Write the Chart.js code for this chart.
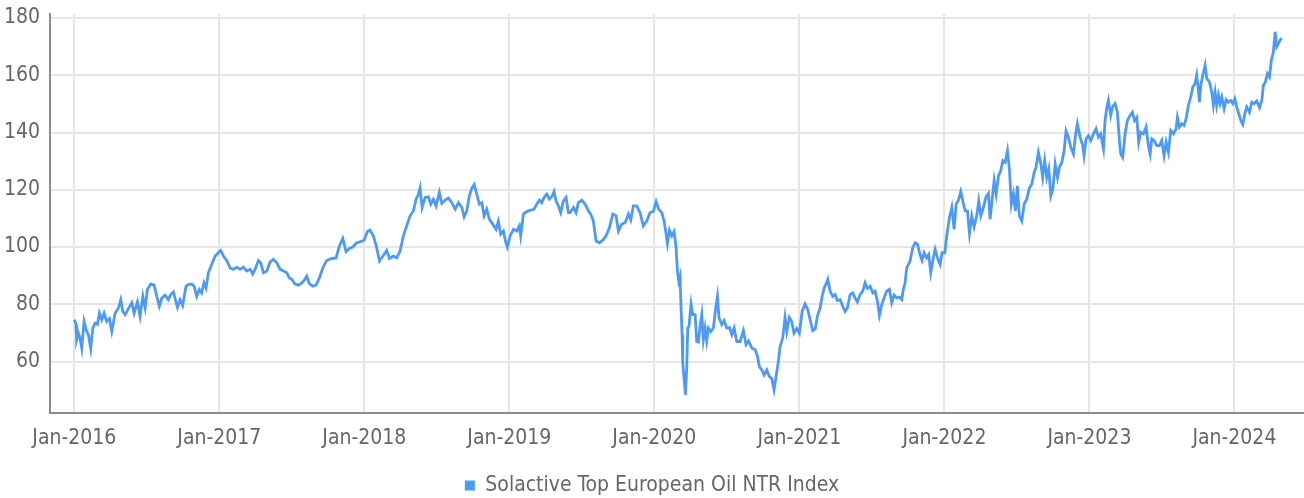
<!DOCTYPE html>
<html><head><meta charset="utf-8">
<script src="https://cdn.jsdelivr.net/npm/chart.js@4/dist/chart.umd.min.js"></script>
<style>html,body{margin:0;padding:0;background:#fff}#wrap{width:1304px;height:498px;position:relative}</style>
</head><body><div id="wrap"><canvas id="c"></canvas></div>
<script>
const seriesName = 'Solactive Top European Oil NTR Index';
const dates = [
2016.000,2016.012,2016.016,2016.028,2016.039,2016.051,2016.067,2016.081,2016.097,2016.113,2016.127,2016.143,2016.159,2016.173,2016.189,2016.205,2016.223,2016.242,2016.258,2016.281,2016.304,2016.320,2016.334,2016.350,2016.373,2016.396,2016.412,2016.435,2016.453,2016.472,2016.488,2016.504,2016.527,2016.550,2016.568,2016.586,2016.603,2016.626,2016.648,2016.665,2016.683,2016.694,2016.711,2016.729,2016.747,2016.770,2016.786,2016.809,2016.826,2016.844,2016.862,2016.878,2016.894,2016.908,2016.924,2016.947,2016.970,2016.993,2017.009,2017.032,2017.051,
2017.074,2017.097,2017.120,2017.143,2017.166,2017.189,2017.212,2017.230,2017.246,2017.269,2017.285,2017.304,2017.327,2017.350,2017.373,2017.396,2017.419,2017.442,2017.465,2017.483,2017.499,2017.522,2017.545,2017.568,2017.584,2017.603,2017.621,2017.644,2017.667,2017.690,2017.713,2017.740,2017.775,2017.805,2017.828,2017.851,2017.874,2017.897,2017.920,2017.947,2017.975,2017.998,2018.021,2018.039,2018.062,2018.085,2018.104,2018.127,2018.154,2018.173,2018.200,2018.223,
2018.246,2018.269,2018.292,2018.315,2018.338,2018.357,2018.373,2018.384,2018.398,2018.419,2018.442,2018.458,2018.476,2018.494,2018.517,2018.534,2018.557,2018.580,2018.603,2018.626,2018.649,2018.672,2018.688,2018.706,2018.724,2018.741,2018.757,2018.775,2018.793,2018.810,2018.826,2018.844,2018.862,2018.885,2018.908,2018.924,2018.940,2018.959,2018.973,2018.986,2019.005,2019.028,2019.051,2019.069,2019.078,2019.097,2019.120,2019.147,2019.170,2019.189,2019.207,2019.223,2019.239,2019.258,2019.276,2019.292,2019.308,2019.322,2019.338,2019.354,2019.373,2019.391,2019.407,
2019.419,2019.442,2019.460,2019.476,2019.499,2019.522,2019.545,2019.561,2019.579,2019.598,2019.621,2019.644,2019.667,2019.690,2019.713,2019.736,2019.752,2019.775,2019.798,2019.821,2019.837,2019.855,2019.878,2019.901,2019.924,2019.947,2019.970,2019.993,2020.012,2020.030,2020.051,2020.067,2020.081,2020.090,2020.104,2020.120,2020.136,2020.150,2020.159,2020.168,2020.177,2020.184,2020.191,2020.196,2020.205,2020.214,2020.223,2020.230,2020.239,2020.246,2020.253,2020.265,2020.281,2020.292,2020.304,2020.315,2020.327,2020.338,2020.350,2020.361,2020.373,2020.389,2020.407,2020.423,2020.435,2020.446,2020.465,2020.481,2020.499,2020.518,2020.534,2020.550,2020.568,
2020.591,2020.614,2020.632,2020.649,2020.672,2020.695,2020.711,2020.724,2020.741,2020.757,2020.775,2020.793,2020.809,2020.825,2020.839,2020.855,2020.867,2020.885,2020.901,2020.913,2020.931,2020.947,2020.963,2020.982,2021.000,2021.019,2021.039,2021.058,2021.074,2021.092,2021.110,2021.124,2021.143,2021.157,2021.171,2021.184,2021.196,2021.212,2021.230,2021.246,2021.262,2021.281,2021.299,2021.315,2021.331,2021.350,2021.368,2021.384,2021.400,2021.419,2021.437,2021.453,2021.469,2021.488,2021.506,2021.522,2021.538,2021.552,2021.568,2021.584,2021.602,2021.621,2021.637,2021.653,2021.671,2021.690,2021.706,2021.717,2021.729,2021.740,
2021.763,2021.782,2021.798,2021.814,2021.832,2021.846,2021.860,2021.878,2021.892,2021.906,2021.920,2021.936,2021.952,2021.970,2021.984,2022.003,2022.016,2022.035,2022.051,2022.067,2022.081,2022.097,2022.113,2022.127,2022.143,2022.159,2022.173,2022.189,2022.205,2022.223,2022.237,2022.251,2022.269,2022.287,2022.304,2022.315,2022.329,2022.343,2022.357,2022.373,2022.389,2022.403,2022.419,2022.435,2022.449,2022.462,2022.476,2022.490,2022.503,2022.517,2022.534,2022.550,2022.568,2022.586,2022.603,2022.619,2022.632,2022.648,2022.665,2022.678,2022.692,2022.706,2022.720,2022.734,2022.748,2022.764,2022.780,2022.793,2022.810,2022.826,2022.839,2022.855,2022.872,2022.890,2022.904,2022.917,
2022.936,2022.954,2022.963,2022.977,2022.993,2023.009,2023.028,2023.046,2023.062,2023.078,2023.097,2023.108,2023.120,2023.131,2023.147,2023.161,2023.177,2023.193,2023.207,2023.216,2023.230,2023.246,2023.262,2023.281,2023.297,2023.311,2023.327,2023.340,2023.354,2023.373,2023.391,2023.407,2023.419,2023.430,2023.446,2023.465,2023.483,2023.499,2023.515,2023.529,2023.545,2023.561,2023.580,2023.598,2023.607,2023.621,2023.637,2023.653,2023.667,2023.683,2023.699,2023.713,2023.729,2023.740,2023.752,2023.759,2023.768,2023.782,2023.798,2023.810,2023.828,2023.844,2023.855,2023.867,2023.878,2023.890,2023.901,2023.913,2023.929,2023.943,2023.959,2023.975,2023.989,2024.003,2024.016,2024.030,2024.044,2024.058,2024.072,2024.085,2024.104,2024.120,2024.136,2024.154,2024.173,2024.189,2024.200,2024.214,2024.228,2024.242,2024.255,2024.269,2024.281,2024.292,2024.304,2024.315,2024.327
];
const values = [
74.6,72.9,67.6,69.9,68.2,64.7,74.0,71.1,69.4,64.5,71.7,73.4,73.0,76.9,74.6,76.9,74.0,75.0,70.5,76.9,78.7,81.6,77.5,76.4,78.5,80.5,76.9,80.8,75.8,82.8,78.7,85.2,87.1,86.7,82.8,79.3,82.2,83.2,81.6,83.4,84.3,82.2,78.9,81.6,79.6,86.3,86.9,87.1,86.3,82.8,85.2,84.0,87.5,85.7,91.0,93.9,96.8,98.0,98.8,96.5,95.3,
92.7,92.2,93.0,92.2,93.0,91.6,92.2,90.6,92.2,95.3,94.5,91.0,91.6,94.8,95.7,94.5,92.2,91.6,91.0,89.2,88.7,87.1,86.7,87.5,88.3,89.8,87.1,86.3,86.7,89.2,92.7,95.3,96.0,96.2,100.4,103.0,98.4,99.5,100.0,101.5,101.9,102.4,105.4,105.9,103.9,99.8,95.1,96.8,98.8,96.0,96.8,96.2,
98.6,103.9,107.4,110.9,112.6,116.7,118.5,120.6,113.8,117.3,117.5,115.0,116.7,114.4,119.1,115.2,116.4,117.1,115.5,113.2,115.5,113.8,110.5,112.6,117.9,120.6,121.8,118.5,115.0,115.5,110.9,113.2,109.7,108.0,106.2,109.1,104.5,105.6,102.1,100.0,103.9,106.2,105.6,107.4,103.9,111.5,112.4,112.9,113.2,115.0,116.4,115.5,117.3,118.5,116.7,117.5,119.4,116.1,114.4,112.0,116.1,117.3,112.0,
112.0,113.8,112.0,115.5,116.4,115.0,112.6,111.5,109.1,102.1,101.5,102.4,103.9,106.8,111.5,110.9,105.6,108.0,108.5,111.5,109.4,114.4,114.4,112.0,107.4,109.1,112.0,112.4,115.9,113.2,112.0,109.1,104.5,101.2,105.9,103.9,105.4,99.8,91.6,88.1,89.8,78.7,69.4,59.4,54.1,48.3,57.6,71.7,72.3,76.4,80.1,76.4,76.4,67.0,66.8,72.3,76.4,67.6,71.7,67.2,71.7,70.5,71.7,78.7,82.8,75.2,72.9,74.3,71.7,71.9,69.4,71.7,67.0,
67.0,70.8,65.9,67.2,64.7,64.1,61.8,58.2,57.1,55.3,57.1,54.7,54.1,50.1,54.7,60.0,65.3,68.2,75.4,70.5,75.4,74.0,69.9,71.5,69.9,77.5,80.1,78.1,74.6,70.8,71.5,75.8,78.7,82.8,85.7,87.1,88.7,84.6,82.8,83.4,81.3,81.6,79.3,77.5,78.7,83.4,84.0,82.2,80.8,83.4,84.6,87.5,85.5,86.3,84.0,84.6,81.1,76.1,79.9,82.2,84.6,85.2,80.5,83.2,82.2,82.5,81.6,85.2,87.5,92.7,
95.1,99.8,101.5,101.0,97.4,95.3,98.0,96.2,97.4,91.0,95.1,99.2,96.2,93.9,98.0,98.0,103.9,110.3,113.8,106.2,115.0,116.4,119.4,116.1,112.6,112.6,104.7,110.9,107.0,110.9,116.1,110.9,113.8,117.5,118.7,109.7,116.4,123.2,118.5,124.9,126.7,130.2,129.6,133.7,126.7,115.0,118.5,112.6,121.4,110.9,109.1,115.0,116.7,120.6,122.0,126.1,127.8,133.1,129.0,124.3,130.2,124.3,127.3,117.9,120.2,129.0,124.3,127.8,129.6,133.7,140.5,138.4,134.8,132.5,138.9,143.1,
138.4,135.4,131.9,137.8,138.9,137.2,139.5,141.3,138.4,139.5,134.3,144.2,148.7,151.2,146.0,149.1,150.1,147.1,137.2,132.5,131.3,139.5,144.2,146.0,147.1,144.2,145.3,136.6,140.1,139.5,141.9,135.4,132.5,137.8,137.2,135.4,135.4,137.2,131.9,136.6,133.1,140.7,139.5,141.3,145.3,141.9,143.1,142.5,144.8,149.5,152.4,155.9,157.1,160.0,154.7,150.6,156.5,160.0,163.5,158.8,157.7,154.1,149.5,154.1,149.5,153.0,150.1,152.4,148.3,151.5,150.6,151.2,150.1,151.8,148.9,146.6,144.2,142.8,146.6,148.9,147.1,150.6,150.1,151.0,148.7,151.2,156.5,157.7,160.6,159.4,165.3,168.2,175.2,170.0,171.1,172.3,172.9
];
const xTickYears = [2016,2017,2018,2019,2020,2021,2022,2023,2024];
const xTickLabels = ['Jan-2016','Jan-2017','Jan-2018','Jan-2019','Jan-2020','Jan-2021','Jan-2022','Jan-2023','Jan-2024'];
const yTicks = [60,80,100,120,140,160,180];

const FONT = "'Liberation Sans Narrow','DejaVu Sans Condensed','Roboto Condensed',sans-serif";
const LINE = '#4d9af6';
const GRID = '#e6e6e6';
const AXIS = '#8c8c8c';
const TEXT = '#666666';

new Chart(document.getElementById('c'), {
  type: 'line',
  data: {
    datasets: [{
      label: seriesName,
      data: dates.map((d, i) => ({x: d, y: values[i]})),
      borderColor: LINE,
      backgroundColor: LINE,
      borderWidth: 2.8,
      pointRadius: 0,
      tension: 0,
      fill: false
    }]
  },
  options: {
    responsive: true,
    maintainAspectRatio: false,
    animation: false,
    layout: { padding: { left: 0, right: 0, top: 0, bottom: -8 } },
    plugins: {
      tooltip: { enabled: false },
      legend: {
        position: 'bottom',
        labels: {
          boxWidth: 10, boxHeight: 10, padding: 2, color: TEXT,
          font: { family: FONT, size: 21 },
          generateLabels: (chart) => Chart.defaults.plugins.legend.labels.generateLabels(chart).map(l => ({...l, lineWidth: 0}))
        }
      }
    },
    scales: {
      x: {
        type: 'linear',
        min: 2015.832,
        max: 2024.48,
        afterBuildTicks: (s) => { s.ticks = xTickYears.map(v => ({value: v})); },
        afterFit: (s) => { s.height += 9; },
        ticks: {
          callback: (v, i) => xTickLabels[i],
          autoSkip: false, maxRotation: 0, color: TEXT, padding: 13,
          font: { family: FONT, size: 21 }
        },
        grid: { color: GRID, lineWidth: 2, drawTicks: false },
        border: { color: AXIS, width: 2 }
      },
      y: {
        min: 42.1,
        max: 181.4,
        afterBuildTicks: (s) => { s.ticks = yTicks.map(v => ({value: v})); },
        afterFit: (s) => { s.width = 50; s.paddingTop = 14; },
        ticks: { color: TEXT, padding: 10, font: { family: FONT, size: 21 } },
        grid: { color: GRID, lineWidth: 2, drawTicks: false },
        border: { color: AXIS, width: 2 }
      }
    }
  }
});
</script>
</body></html>
